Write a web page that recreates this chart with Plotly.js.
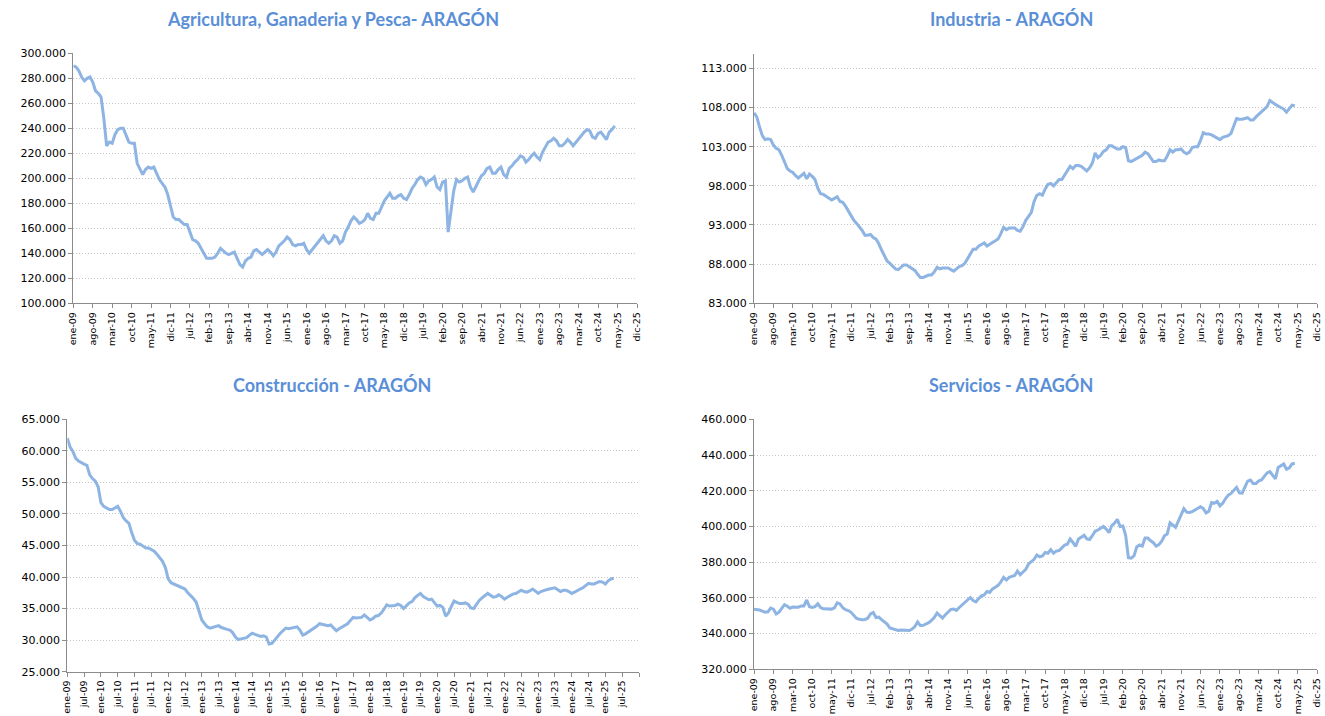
<!DOCTYPE html>
<html>
<head>
<meta charset="utf-8">
<script src="https://cdn.plot.ly/plotly-3.0.1.min.js"></script>
<style>
  html, body { margin: 0; padding: 0; background: #fff; }
  #graf { width: 1325px; height: 716px; }
</style>
</head>
<body>
<div id="graf"></div>
<script>
// afiliados por sector, Aragon, miles de personas, ene-09 .. abr-25
var meses = ['ene','feb','mar','abr','may','jun','jul','ago','sep','oct','nov','dic'];

var agricultura = [290,289,286,281,278,280,281,277,270,268,
  265,248,226,229,228,235,239,240,240,234,
  229,228,228,212,207,203,207,209,208,209,
  204,199,196,193,187,177,169,167,167,165,
  163,163,156,151,150,148,144,140,136,136,
  136,137,140,144,142,140,139,140,141,136,
  131,129,134,136,137,142,143,141,139,141,
  143,141,138,141,146,148,150,153,151,147,
  146,147,147,148,143,140,143,145,148,151,
  154,150,148,150,154,153,148,150,157,161,
  166,169,167,164,165,167,172,168,167,172,
  172,177,182,185,188,184,184,186,187,184,
  183,187,192,195,199,201,200,195,198,199,
  201,193,191,197,198,157,176,190,199,197,
  198,200,201,193,189,194,198,202,204,208,
  209,204,204,207,209,203,201,208,210,213,
  215,218,217,213,215,218,220,217,215,221,
  225,229,230,232,230,226,226,228,231,229,
  226,229,232,235,237,239,238,233,232,236,
  237,234,231,237,239,242];

var industria = [107.3,106.8,105.5,104.4,103.9,104.0,103.9,103.2,102.8,102.6,
  101.9,101.0,100.2,99.9,99.7,99.3,99.0,99.3,99.6,98.9,
  99.5,99.2,98.8,97.7,97.0,96.9,96.7,96.4,96.2,96.4,
  96.6,96.0,95.9,95.4,94.8,94.1,93.6,93.2,92.8,92.3,
  91.7,91.7,91.8,91.4,91.2,90.6,89.8,89.0,88.4,88.1,
  87.7,87.4,87.3,87.6,87.9,87.9,87.7,87.5,87.2,86.7,
  86.3,86.3,86.5,86.6,86.6,87.0,87.6,87.4,87.5,87.5,
  87.5,87.3,87.1,87.4,87.7,87.8,88.1,88.7,89.4,89.9,
  89.9,90.3,90.5,90.7,90.3,90.5,90.8,90.9,91.2,91.9,
  92.7,92.4,92.6,92.6,92.6,92.3,92.2,92.8,93.6,94.1,
  94.6,96.0,96.8,97.0,96.8,97.6,98.2,98.3,98.0,98.4,
  98.8,98.8,99.4,99.9,100.5,100.2,100.6,100.6,100.5,100.2,
  99.9,100.3,100.9,102.2,101.6,101.9,102.4,102.6,103.1,103.1,
  102.9,102.7,102.7,103.0,102.9,101.2,101.1,101.3,101.6,101.8,
  101.9,102.3,102.1,101.6,101.1,101.1,101.3,101.2,101.2,101.8,
  102.6,102.3,102.6,102.6,102.7,102.3,102.1,102.3,102.9,103.0,
  103.0,103.8,104.8,104.6,104.6,104.5,104.3,104.1,103.9,104.2,
  104.3,104.4,104.7,105.6,106.6,106.5,106.5,106.6,106.7,106.4,
  106.4,106.8,107.1,107.4,107.7,108.1,108.9,108.6,108.4,108.2,
  108.0,107.8,107.4,107.9,108.3,108.2];

var construccion = [62.0,60.6,59.9,58.8,58.4,58.1,57.9,57.7,56.2,55.6,
  55.2,54.3,51.8,51.2,51.0,50.7,50.7,50.9,51.2,50.4,
  49.4,48.9,48.5,47.0,45.8,45.3,45.2,44.9,44.6,44.6,
  44.4,44.1,43.6,43.0,42.5,41.5,39.7,39.1,38.9,38.6,
  38.4,38.3,38.1,37.5,37.1,36.6,36.0,34.5,33.2,32.6,
  32.1,31.9,32.0,32.2,32.3,32.0,31.8,31.7,31.6,31.2,
  30.5,30.1,30.2,30.3,30.4,30.8,31.1,30.9,30.7,30.6,
  30.7,30.5,29.4,29.5,30.0,30.6,31.1,31.5,31.9,31.8,
  31.9,31.9,32.1,31.6,30.8,31.0,31.3,31.5,31.8,32.2,
  32.6,32.5,32.3,32.3,32.4,32.0,31.5,31.8,32.1,32.3,
  32.6,33.1,33.6,33.5,33.5,33.6,34.0,33.6,33.2,33.4,
  33.8,33.9,34.3,34.9,35.6,35.4,35.4,35.5,35.7,35.5,
  35.0,35.5,35.9,36.1,36.7,37.1,37.4,36.9,36.6,36.4,
  36.5,36.0,35.4,35.5,35.2,33.8,34.3,35.3,36.2,36.0,
  35.8,35.8,35.9,35.7,35.1,35.0,35.7,36.3,36.7,37.0,
  37.4,37.1,36.8,36.9,37.2,36.9,36.5,36.8,37.1,37.3,
  37.4,37.6,37.9,37.7,37.6,37.8,38.1,37.8,37.4,37.7,
  37.9,38.0,38.1,38.2,38.3,38.0,37.7,37.9,37.9,37.7,
  37.4,37.6,37.9,38.1,38.3,38.6,39.0,38.9,38.9,39.1,
  39.3,39.2,38.9,39.4,39.7,39.8];

var servicios = [353.6,353.6,353.2,352.6,352.0,352.2,354.3,353.7,351.0,352.0,
  354.0,356.2,355.3,354.2,354.9,355.0,354.8,355.5,355.5,358.8,
  355.1,354.7,355.1,356.7,354.6,353.9,353.8,353.8,353.7,354.4,
  357.2,356.6,354.5,353.4,352.9,351.9,350.0,348.5,348.0,347.7,
  347.9,348.6,351.0,351.8,349.0,349.2,347.8,346.4,345.3,343.1,
  342.7,342.0,341.7,342.0,342.0,342.0,341.7,342.5,343.9,346.5,
  344.5,344.6,345.4,346.1,347.4,349.0,351.5,350.3,348.7,350.6,
  351.9,353.6,353.8,353.0,354.6,356.0,356.9,358.6,360.2,358.5,
  357.8,359.6,361.1,361.6,363.6,363.0,365.0,366.0,367.0,369.0,
  371.5,370.0,371.5,372.0,372.5,375.0,373.0,374.5,376.0,379.0,
  380.5,381.6,384.0,383.0,383.5,385.4,385.0,387.0,385.0,386.2,
  386.5,387.8,389.5,390.0,393.0,391.0,388.9,393.0,394.2,395.0,
  393.0,392.7,394.8,397.3,398.0,399.0,400.0,398.5,396.5,400.5,
  401.8,404.0,400.0,400.3,395.0,382.5,382.2,383.5,388.5,389.6,
  389.0,393.5,393.5,392.0,390.9,389.0,389.8,391.8,394.8,395.8,
  402.0,400.8,399.5,403.0,406.5,410.0,408.0,407.8,408.3,409.2,
  410.0,411.0,410.0,407.6,408.5,413.4,413.0,414.0,411.5,413.0,
  415.5,417.5,418.5,420.5,421.9,418.8,418.6,422.0,425.4,426.0,
  424.0,424.0,425.5,426.0,428.0,430.0,430.7,428.4,426.6,433.0,
  434.2,435.0,432.0,432.8,435.0,435.4];

var titulos = ['Agricultura, Ganaderia y Pesca- ARAGÓN', 'Industria - ARAGÓN',
               'Construcción - ARAGÓN', 'Servicios - ARAGÓN'];

function etiqueta(m) {
  var a = 9 + Math.floor(m / 12);
  return meses[m % 12] + '-' + (a < 10 ? '0' + a : '' + a);
}

function ticksMes(paso, fin, ultimoVisible) {
  var v = [], t = [];
  for (var m = 0; m <= fin; m += paso) {
    v.push(m);
    t.push(m <= ultimoVisible ? etiqueta(m) : '');
  }
  return { v: v, t: t };
}

var gris = '#8c8c8c';
var azulLinea = '#8db4e2';

function ejeX(dom, anchor, rango, tk) {
  return {
    domain: dom, anchor: anchor, range: rango,
    tickmode: 'array', tickvals: tk.v, ticktext: tk.t,
    tickangle: -90, ticks: 'outside', ticklen: 4, tickcolor: gris,
    showline: true, linecolor: gris, linewidth: 1,
    showgrid: false, zeroline: false,
    tickfont: { family: 'DejaVu Sans', size: 9.5, color: '#000' }
  };
}

function ejeY(dom, anchor, rango, t0, paso) {
  return {
    domain: dom, anchor: anchor, range: rango,
    tick0: t0, dtick: paso, tickformat: ',d',
    ticks: 'outside', ticklen: 4, tickcolor: gris,
    showline: true, linecolor: gris, linewidth: 1,
    showgrid: true, gridcolor: '#c4c4c4', griddash: '1px,2px', gridwidth: 1,
    zeroline: false,
    tickfont: { family: 'DejaVu Sans', size: 11, color: '#000' }
  };
}

function serie(vals, xa, ya) {
  var x = [], y = [];
  for (var i = 0; i < vals.length; i++) {
    x.push(i);
    y.push(vals[i] * 1000);
  }
  return { x: x, y: y, xaxis: xa, yaxis: ya, type: 'scatter', mode: 'lines',
           line: { color: azulLinea, width: 3 }, hoverinfo: 'skip' };
}

var t7 = ticksMes(7, 203, 203);
var t6 = ticksMes(6, 204, 198);

var W = 1325, H = 716;
function dx(a, b) { return [a / W, b / W]; }
function dy(top, bottom) { return [1 - bottom / H, 1 - top / H]; }

var data = [
  serie(agricultura, 'x', 'y'),
  serie(industria, 'x2', 'y2'),
  serie(construccion, 'x3', 'y3'),
  serie(servicios, 'x4', 'y4')
];

function titulo(txt, xc, yc) {
  return { text: txt, xref: 'paper', yref: 'paper', x: xc / W, y: 1 - yc / H,
           xanchor: 'center', yanchor: 'middle', showarrow: false,
           font: { family: 'Lato', size: 18, weight: 'bold', color: '#5a8fd8' } };
}

var layout = {
  width: W, height: H,
  margin: { l: 0, r: 0, t: 0, b: 0 },
  paper_bgcolor: '#fff', plot_bgcolor: '#fff',
  separators: ',.',
  showlegend: false,
  xaxis:  ejeX(dx(73.3, 637), 'y', [0, 203], t7),
  yaxis:  ejeY(dy(53.3, 303.3), 'x', [100000, 300000], 100000, 20000),
  xaxis2: ejeX(dx(754, 1317), 'y2', [0, 203], t7),
  yaxis2: ejeY(dy(54, 303.3), 'x2', [83000, 114830], 83000, 5000),
  xaxis3: ejeX(dx(67.3, 639), 'y3', [0, 204], t6),
  yaxis3: ejeY(dy(419.3, 671.7), 'x3', [25000, 65000], 25000, 5000),
  xaxis4: ejeX(dx(754, 1317), 'y4', [0, 203], t7),
  yaxis4: ejeY(dy(419.3, 669.3), 'x4', [320000, 460000], 320000, 20000),
  annotations: [
    titulo(titulos[0], 333, 19),
    titulo(titulos[1], 1011, 19),
    titulo(titulos[2], 332, 385),
    titulo(titulos[3], 1011, 385)
  ]
};

Plotly.newPlot('graf', data, layout, { displayModeBar: false, staticPlot: true });
</script>
</body>
</html>
